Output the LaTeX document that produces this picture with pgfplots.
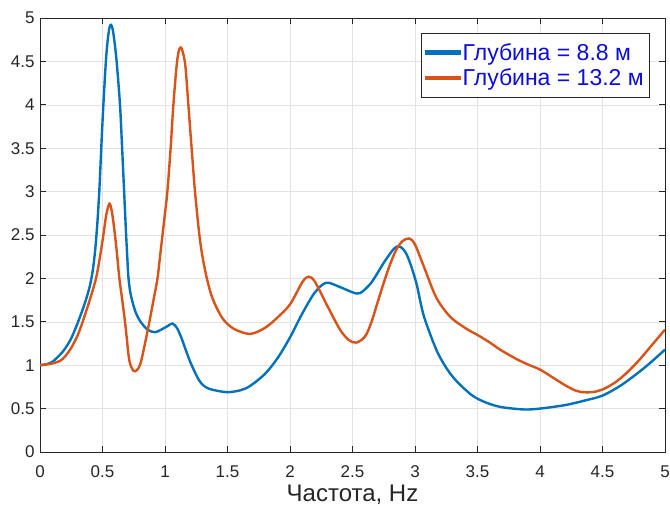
\documentclass[border=0pt]{standalone}
\usepackage{pgfplots}
\pgfplotsset{compat=1.18}
\usepackage{fontspec}
\setmainfont{Liberation Sans}
\definecolor{mblue}{rgb}{0,0.447,0.741}
\definecolor{morange}{rgb}{0.85,0.325,0.098}
\definecolor{axgray}{rgb}{0.15,0.15,0.15}
\definecolor{leg}{rgb}{0.05,0.05,0.85}
\begin{document}
\begin{tikzpicture}
\path[use as bounding box] (0,0) rectangle (670pt,506pt);
\begin{axis}[
  at={(40pt,54pt)}, anchor=south west,
  scale only axis, width=625pt, height=434pt,
  xmin=0, xmax=5, ymin=0, ymax=5,
  xtick={0,0.5,...,5}, ytick={0,0.5,...,5},
  xticklabels={0,0.5,1,1.5,2,2.5,3,3.5,4,4.5,5},
  yticklabels={0,0.5,1,1.5,2,2.5,3,3.5,4,4.5,5},
  tick align=inside, xtick pos=both, ytick pos=both,
  major tick length=6pt,
  every tick/.style={axgray, line width=0.6pt},
  axis line style={axgray, line width=0.7pt},
  grid=major, grid style={gray!22, line width=0.5pt},
  tick label style={font=\fontsize{17}{19}\selectfont, text=axgray},
  xticklabel style={yshift=-10pt},
  yticklabel style={xshift=-2pt},
  xlabel={Частота, Hz},
  xlabel style={font=\fontsize{24}{26}\selectfont, text=axgray, yshift=-1pt},
  legend style={at={(0.976,0.965)}, anchor=north east, draw=axgray, line width=0.6pt,
     font=\fontsize{23}{27}\selectfont, text=leg, inner xsep=4pt, inner ysep=8pt,
     row sep=3pt},
  legend cell align=left,
  legend image code/.code={\fill[#1] (0pt,-1.2pt) rectangle (33pt,1.2pt);},
]
\addplot[mblue, line width=2.4pt, smooth, tension=0.5] coordinates {
(0,1.00) (0.05,1.01) (0.1,1.04) (0.16,1.12) (0.2,1.19) (0.25,1.31) (0.305,1.5)
(0.36,1.72) (0.4,1.92) (0.425,2.12) (0.443,2.35) (0.457,2.6) (0.467,2.82)
(0.476,3.05) (0.49,3.5) (0.507,4.0) (0.527,4.5) (0.542,4.75) (0.556,4.89)
(0.568,4.92) (0.58,4.88) (0.594,4.75) (0.613,4.5) (0.64,4.0) (0.657,3.5)
(0.673,3.0) (0.689,2.5) (0.698,2.25) (0.707,2.02) (0.72,1.86) (0.738,1.74)
(0.765,1.61) (0.8,1.51) (0.86,1.41) (0.92,1.38) (0.97,1.41)
(1.02,1.45) (1.06,1.48) (1.095,1.43) (1.13,1.32) (1.17,1.16) (1.21,1.01)
(1.28,0.81) (1.35,0.73) (1.49,0.69) (1.6,0.71)
(1.68,0.76) (1.8,0.9) (1.9,1.08) (2.0,1.32) (2.1,1.6) (2.2,1.84) (2.29,1.95)
(2.4,1.9) (2.5,1.84) (2.56,1.83) (2.65,1.95) (2.75,2.18) (2.83,2.34)
(2.87,2.37) (2.91,2.33) (2.95,2.22) (3.01,1.95) (3.07,1.57) (3.17,1.18)
(3.25,0.97) (3.33,0.82) (3.45,0.66) (3.55,0.58) (3.68,0.52) (3.87,0.49)
(4.0,0.5) (4.2,0.54) (4.35,0.59) (4.5,0.65) (4.65,0.77) (4.8,0.93)
(4.9,1.05) (5.0,1.18)
};
\addlegendentry{Глубина = 8.8 м}
\addplot[morange, line width=2.4pt, smooth, tension=0.5] coordinates {
(0,1.00) (0.05,1.01) (0.1,1.02) (0.16,1.05) (0.2,1.1) (0.25,1.2) (0.3,1.34)
(0.341,1.5) (0.4,1.76) (0.448,2.0) (0.48,2.25) (0.507,2.5)
(0.53,2.73) (0.555,2.86) (0.575,2.77) (0.6,2.5) (0.618,2.25) (0.635,2.0)
(0.658,1.75) (0.68,1.5) (0.695,1.3) (0.707,1.13) (0.72,1.02) (0.74,0.95)
(0.76,0.93) (0.785,0.96) (0.808,1.04) (0.84,1.25) (0.875,1.5) (0.908,1.75)
(0.94,2.0) (0.96,2.25) (0.98,2.5) (1.0,2.75) (1.019,3.0) (1.045,3.5)
(1.067,4.0) (1.093,4.45) (1.11,4.62) (1.125,4.66) (1.14,4.62) (1.163,4.45)
(1.187,4.0) (1.213,3.5) (1.24,3.0) (1.275,2.5) (1.3,2.25) (1.335,2.0)
(1.38,1.77) (1.46,1.54) (1.55,1.42) (1.68,1.36)
(1.8,1.43) (1.9,1.55) (2.0,1.7) (2.1,1.96) (2.15,2.02) (2.2,1.96)
(2.3,1.68) (2.4,1.41) (2.47,1.29) (2.53,1.26) (2.6,1.33) (2.65,1.49)
(2.7,1.72) (2.75,1.95) (2.8,2.16) (2.85,2.33) (2.9,2.43) (2.955,2.46)
(3.0,2.39) (3.07,2.14) (3.17,1.78) (3.28,1.56) (3.4,1.43) (3.51,1.34)
(3.6,1.26) (3.68,1.18)
(3.8,1.08) (3.9,1.01) (4.0,0.95) (4.1,0.86) (4.2,0.77) (4.28,0.71)
(4.33,0.69) (4.42,0.69) (4.5,0.72) (4.6,0.8) (4.7,0.92) (4.8,1.07)
(4.9,1.24) (5.0,1.41)
};
\addlegendentry{Глубина = 13.2 м}
\end{axis}
\end{tikzpicture}
\end{document}
